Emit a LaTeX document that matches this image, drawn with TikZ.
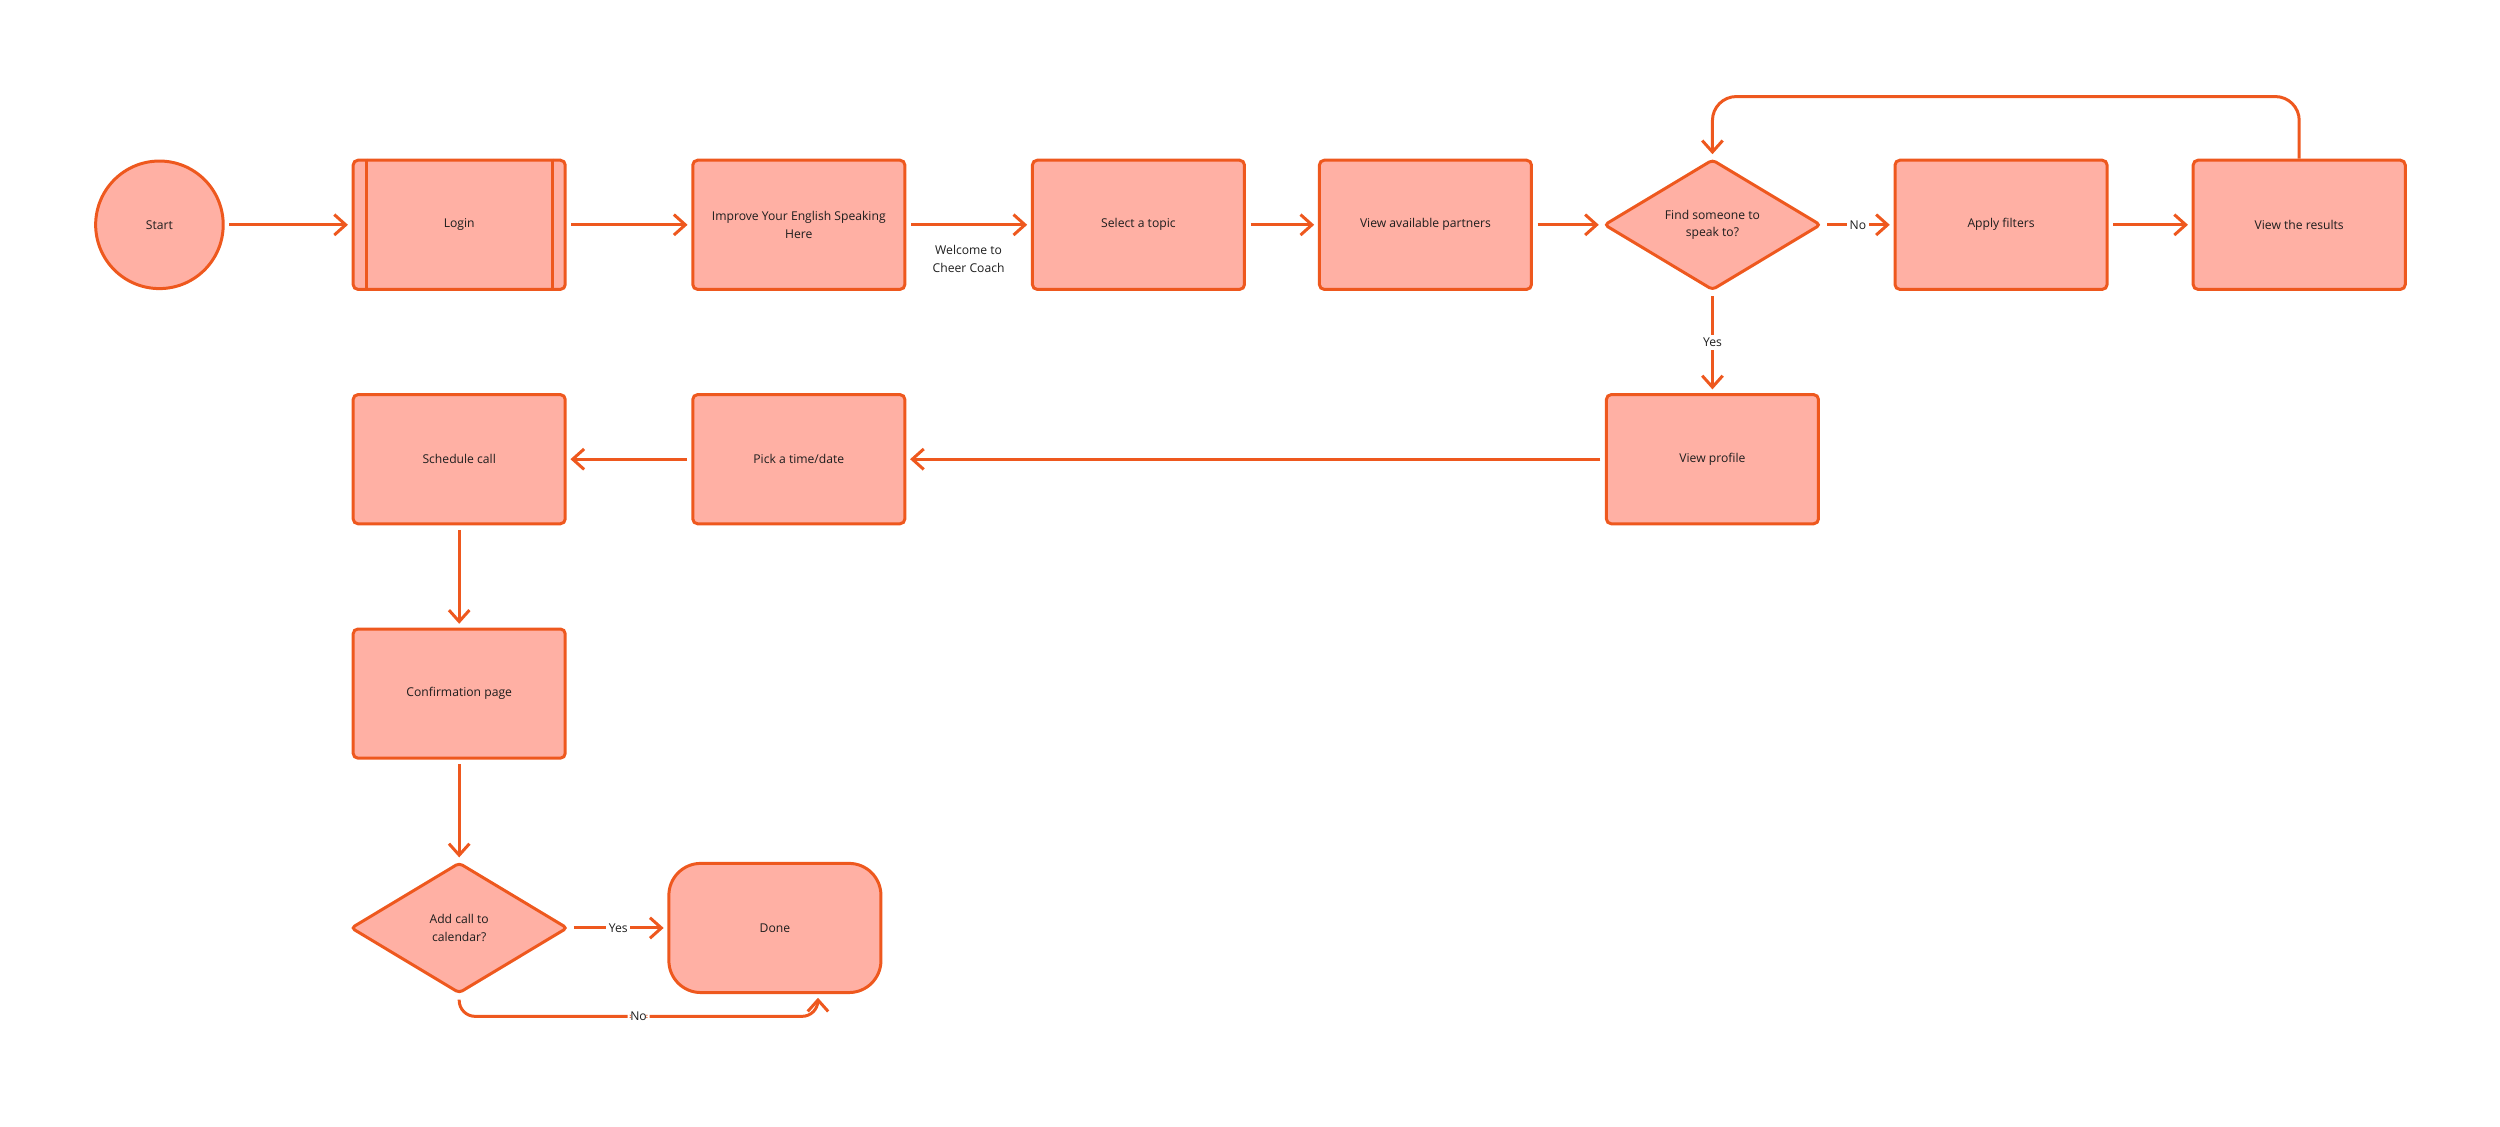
\documentclass[tikz,border=0pt]{standalone}
\usepackage{fontspec}
\setmainfont{Open Sans}
\usetikzlibrary{shapes.geometric,arrows.meta,positioning}
\definecolor{flowline}{RGB}{238,88,30}
\definecolor{flowfill}{RGB}{255,176,164}
\definecolor{flowtext}{RGB}{30,30,30}
\begin{document}
\begin{tikzpicture}[x=0.06cm,y=-0.06cm,-{Straight Barb[length=0.43cm,width=0.77cm]},
  shorten >=4pt,shorten <=5pt,line width=3.2pt,color=flowline,node distance=12.78cm,
  every node/.style={font=\fontsize{13}{19}\selectfont,text=flowtext},
  main node/.style={rectangle,rounded corners=0.18cm,fill=flowfill,draw=flowline,
    minimum width=7.98cm,minimum height=4.86cm,align=center},
  start node/.style={circle,fill=flowfill,draw=flowline,minimum size=4.8cm},
  end node/.style={main node,rounded corners=1.2cm},
  choice node/.style={diamond,aspect=1.66,rounded corners=4pt,fill=flowfill,draw=flowline,
    inner sep=1pt,minimum width=8.16cm,minimum height=4.92cm,align=center},
  lbl/.style={fill=white,inner sep=3pt},
  plain line/.style={-,shorten <=0pt,shorten >=0pt}]
  \useasboundingbox (0,0) rectangle (1568,706.3);
%1
  \node[start node] (1) at (100,141) {Start};
%2
  \node[main node] (2) [right of=1,node distance=11.28cm] {Login};
  \draw[plain line] ([xshift=0.54cm]2.north west) -- ([xshift=0.54cm]2.south west);
  \draw[plain line] ([xshift=-0.54cm]2.north east) -- ([xshift=-0.54cm]2.south east);
%3
  \node[main node] (3) [right of=2] {Improve Your English Speaking\\Here};
%4
  \node[main node] (4) [right of=3] {Select a topic};
%5
  \node[main node] (5) [right of=4,node distance=10.8cm] {View available partners};
%6
  \node[choice node] (6) [right of=5,node distance=10.8cm] {Find someone to\\speak to?};
%7
  \node[main node] (7) [right of=6,node distance=10.86cm] {Apply filters};
%8
  \node[main node] (8) [right of=7,node distance=11.22cm] {View the results};
%9
  \node[main node] (9) [below of=6,node distance=8.82cm] {View profile};
%10
  \node[main node] (10) [below of=3,node distance=8.82cm] {Pick a time/date};
%11
  \node[main node] (11) [below of=2,node distance=8.82cm] {Schedule call};
%12
  \node[main node] (12) [below of=11,node distance=8.82cm] {Confirmation page};
%13
  \node[choice node] (13) [below of=12,node distance=8.82cm] {Add call to\\calendar?};
%14
  \node[end node] (14) [right of=13,node distance=11.88cm] {Done};
%paths
  \path
    (1) edge (2)
    (2) edge (3)
    (3) edge node[below=0.6cm,align=center] {Welcome to\\Cheer Coach} (4)
    (4) edge (5)
    (5) edge (6)
    (6) edge node[lbl] {No} (7)
        edge node[lbl] {Yes} (9)
    (7) edge (8)
    (9) edge (10)
    (10) edge (11)
    (11) edge (12)
    (12) edge (13)
    (13) edge node[lbl] {Yes} (14);
  \draw[rounded corners=0.9cm,shorten <=0pt] (8.north) -- ++(0,-39) -| (6.north);
  \draw[rounded corners=0.6cm] (13.south) |- ([xshift=1.62cm,yshift=-0.84cm]14.south)
    node[lbl,pos=0.75] {No} -- ([xshift=1.62cm]14.south);
\end{tikzpicture}
\end{document}
